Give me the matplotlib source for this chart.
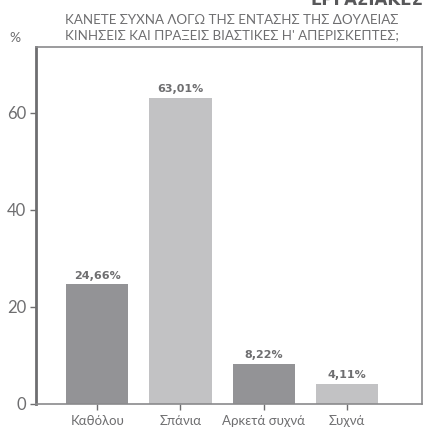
import matplotlib.pyplot as plt

plt.rcParams['font.family'] = ['Lato', 'DejaVu Sans']

categories = ['Καθόλου', 'Σπάνια', 'Αρκετά συχνά', 'Συχνά']
values = [24.66, 63.01, 8.22, 4.11]
labels = ['24,66%', '63,01%', '8,22%', '4,11%']
colors = ['#939396', '#c2c2c4', '#939396', '#c2c2c4']
title_lines = 'ΚΑΝΕΤΕ ΣΥΧΝΑ ΛΟΓΩ ΤΗΣ ΕΝΤΑΣΗΣ ΤΗΣ ΔΟΥΛΕΙΑΣ\nΚΙΝΗΣΕΙΣ ΚΑΙ ΠΡΑΞΕΙΣ ΒΙΑΣΤΙΚΕΣ Η\' ΑΠΕΡΙΣΚΕΠΤΕΣ;'

text_col = '#6e6e70'

fig = plt.figure(figsize=(4.24, 4.28), dpi=100)
ax = fig.add_axes([36 / 424, 24 / 428, 386 / 424, 357 / 428])

x = range(len(categories))
ax.bar(x, values, width=0.75, color=colors)
for xi, v, lab in zip(x, values, labels):
    ax.text(xi, v + 0.8, lab, ha='center', va='bottom', fontsize=8,
            fontweight='bold', color=text_col, family='DejaVu Sans')

ax.set_xlim(-0.735, 3.9)
ax.set_ylim(0, 73.6)
ax.set_yticks([0, 20, 40, 60])
ax.set_xticks(list(x))
ax.set_xticklabels(categories)
ax.tick_params(axis='both', colors='#6e6e70', length=4, width=1)
ax.tick_params(axis='x', labelsize=9.5, pad=4)
ax.tick_params(axis='y', labelsize=12, pad=3)
for lab in ax.get_xticklabels() + ax.get_yticklabels():
    lab.set_color(text_col)

for side in ['top', 'right', 'bottom']:
    ax.spines[side].set_color('#8a8a8c')
    ax.spines[side].set_linewidth(1.2)
ax.spines['left'].set_color('#6e6e70')
ax.spines['left'].set_linewidth(2)

fig.text(232 / 424, 1 - 28 / 428, title_lines, ha='center', va='center',
         fontsize=9.6, color=text_col, linespacing=1.3)
fig.text(15 / 424, 1 - 38 / 428, '%', ha='center', va='center',
         fontsize=10, color=text_col)
fig.text(1.0, 1 - 0 / 428, 'ΕΡΓΑΣΙΑΚΕΣ', ha='right', va='center',
         fontsize=12, fontweight='bold', color='#58585a', family='DejaVu Sans')

fig.savefig('out.png', dpi=100)
